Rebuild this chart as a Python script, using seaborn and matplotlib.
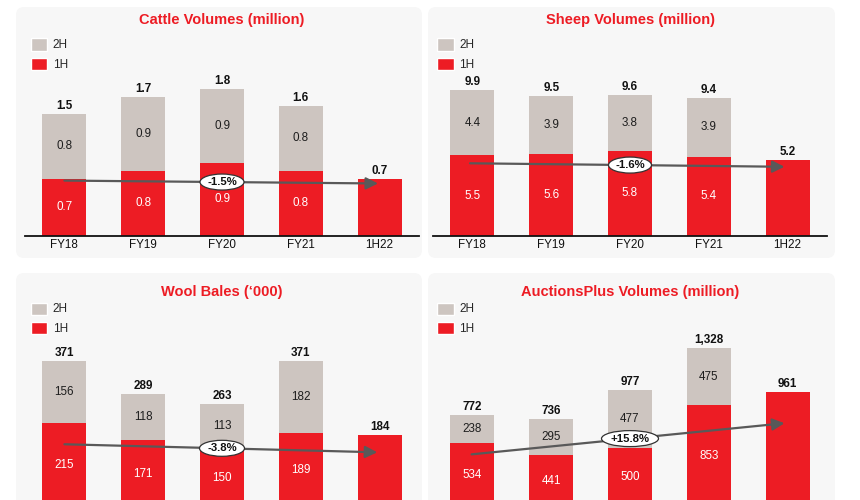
import numpy as np
import pandas as pd
import matplotlib
matplotlib.use("Agg")
import matplotlib.pyplot as plt
import matplotlib.transforms as mtransforms
from matplotlib.patches import FancyBboxPatch, Ellipse, Patch
import seaborn as sns

# ---------------- data ----------------
categories = ["FY18", "FY19", "FY20", "FY21", "1H22"]

cattle_1h = [0.7, 0.8, 0.9, 0.8, 0.7]
cattle_2h = [0.8, 0.9, 0.9, 0.8, None]
cattle_total = [1.5, 1.7, 1.8, 1.6, 0.7]
cattle_cagr = "-1.5%"

sheep_1h = [5.5, 5.6, 5.8, 5.4, 5.2]
sheep_2h = [4.4, 3.9, 3.8, 3.9, None]
sheep_total = [9.9, 9.5, 9.6, 9.4, 5.2]
sheep_cagr = "-1.6%"

wool_1h = [215, 171, 150, 189, 184]
wool_2h = [156, 118, 113, 182, None]
wool_total = [371, 289, 263, 371, 184]
wool_cagr = "-3.8%"

auctions_1h = [534, 441, 500, 853, 961]
auctions_2h = [238, 295, 477, 475, None]
auctions_total = [772, 736, 977, 1328, 961]
auctions_cagr = "+15.8%"

titles = ["Cattle Volumes (million)", "Sheep Volumes (million)",
          "Wool Bales (\u2018000)", "AuctionsPlus Volumes (million)"]
legend_labels = ["2H", "1H"]

# ---------------- style ----------------
sns.set_style("white")
plt.rcParams["font.family"] = ["Liberation Sans", "DejaVu Sans"]

RED = "#ED1C24"
GRAY = "#CDC5C0"
PANEL_BG = "#F7F7F7"
ARROW = "#595959"

W, H = 860, 500
fig = plt.figure(figsize=(W / 100, H / 100), dpi=100)
fig.patch.set_facecolor("white")

AX_W, AX_H = 394, 206

panels = [
    dict(h1=cattle_1h, h2=cattle_2h, tot=cattle_total, cagr=cattle_cagr, title=titles[0],
         bg=(16, 7, 422, 258), left=25, base=236, ty=20, leg=(30.7, 38.5), xlabels=True,
         ymax=206 / 81.5, fmt="{:.1f}", arrow=(0.0, 0.269, 3.98, 0.255), ell=(44, 16)),
    dict(h1=sheep_1h, h2=sheep_2h, tot=sheep_total, cagr=sheep_cagr, title=titles[1],
         bg=(428, 7, 835, 258), left=433, base=236, ty=20, leg=(437.3, 38.5), xlabels=True,
         ymax=206 / 14.7, fmt="{:.1f}", arrow=(-0.03, 0.353, 3.96, 0.336), ell=(43, 16)),
    dict(h1=wool_1h, h2=wool_2h, tot=wool_total, cagr=wool_cagr, title=titles[2],
         bg=(16, 273, 422, 580), left=25, base=507.5, ty=292, leg=(30.7, 302.5), xlabels=False,
         ymax=206 / 0.394, fmt="{:,.0f}", arrow=(0.0, 0.307, 3.97, 0.268), ell=(45, 16)),
    dict(h1=auctions_1h, h2=auctions_2h, tot=auctions_total, cagr=auctions_cagr, title=titles[3],
         bg=(428, 273, 835, 580), left=433, base=507.5, ty=292, leg=(437.3, 302.5), xlabels=False,
         ymax=206 / 0.120, fmt="{:,.0f}", arrow=(-0.01, 0.258, 3.96, 0.409), ell=(57, 16)),
]

for p in panels:
    x0, y0, x1, y1 = p["bg"]
    bg = FancyBboxPatch((x0, H - y1), x1 - x0, y1 - y0,
                        boxstyle="round,pad=0,rounding_size=8",
                        transform=mtransforms.IdentityTransform(),
                        facecolor=PANEL_BG, edgecolor="none", zorder=-5)
    fig.add_artist(bg)

    ax = fig.add_axes([p["left"] / W, (H - p["base"]) / H, AX_W / W, AX_H / H])
    ax.set_facecolor("none")

    df = pd.DataFrame({"cat": categories, "h1": p["h1"],
                       "h2": [np.nan if v is None else v for v in p["h2"]],
                       "total": p["tot"]})

    sns.barplot(data=df, x="cat", y="total", order=categories, color=GRAY,
                saturation=1, width=0.56, linewidth=0, ax=ax, zorder=1)
    sns.barplot(data=df, x="cat", y="h1", order=categories, color=RED,
                saturation=1, width=0.56, linewidth=0, ax=ax, zorder=1.5)

    ax.set_xlim(-0.5, 4.5)
    ax.set_ylim(0, p["ymax"])
    ax.set_xlabel("")
    ax.set_ylabel("")
    ax.set_yticks([])
    for s in ["left", "right", "top"]:
        ax.spines[s].set_visible(False)
    ax.spines["bottom"].set_color("#111111")
    ax.spines["bottom"].set_linewidth(1.3)
    ax.spines["bottom"].set_zorder(6)
    ax.tick_params(axis="x", length=0, pad=2.5, labelsize=8.4, colors="#111111",
                   labelbottom=p["xlabels"])

    fmt = p["fmt"]
    for i, row in df.iterrows():
        has2 = not np.isnan(row["h2"])
        if has2:
            ax.text(i, row["h1"] / 2, fmt.format(row["h1"]), ha="center", va="center",
                    color="white", fontsize=8.4, zorder=7)
            ax.text(i, (row["h1"] + row["total"]) / 2, fmt.format(row["h2"]),
                    ha="center", va="center", color="#1E1E1E", fontsize=8.4, zorder=7)
        ax.annotate(fmt.format(row["total"]), (i, row["total"]), xytext=(0, 3.6),
                    textcoords="offset points", ha="center", va="baseline",
                    fontsize=8.4, fontweight="bold", color="#111111", zorder=7)

    # CAGR arrow
    trans = mtransforms.blended_transform_factory(ax.transData, ax.transAxes)
    ax0, ay0, ax1, ay1 = p["arrow"]
    ax.annotate("", xy=(ax1, ay1), xycoords=trans, xytext=(ax0, ay0), textcoords=trans,
                arrowprops=dict(arrowstyle="-|>,head_length=0.6,head_width=0.3",
                                color=ARROW, lw=1.6, shrinkA=0, shrinkB=0,
                                mutation_scale=12), zorder=8)
    ym = ay0 + (ay1 - ay0) * (2 - ax0) / (ax1 - ax0)
    ew, eh = p["ell"]
    ax.add_patch(Ellipse((0.5, ym), ew / AX_W, eh / AX_H, transform=ax.transAxes,
                         facecolor="white", edgecolor="#333333", lw=0.9, zorder=9))
    ax.text(0.5, ym, p["cagr"], transform=ax.transAxes, ha="center", va="center",
            fontsize=8.2, fontweight="bold", color="#111111", zorder=10)

    # legend
    handles = [Patch(facecolor=GRAY, label=legend_labels[0]),
               Patch(facecolor=RED, label=legend_labels[1])]
    lx, ly = p["leg"]
    ax.legend(handles=handles, loc="upper left", bbox_to_anchor=(lx / W, 1 - ly / H),
              bbox_transform=fig.transFigure, frameon=False, fontsize=8.5,
              handlelength=1.41, handleheight=1.19, handletextpad=0.45,
              labelspacing=0.55, borderpad=0, borderaxespad=0)

    # title
    fig.text((p["left"] + AX_W / 2) / W, 1 - p["ty"] / H, p["title"], ha="center",
             va="center", color=RED, fontsize=10.5, fontweight="bold")

fig.savefig("out.png", dpi=100)
